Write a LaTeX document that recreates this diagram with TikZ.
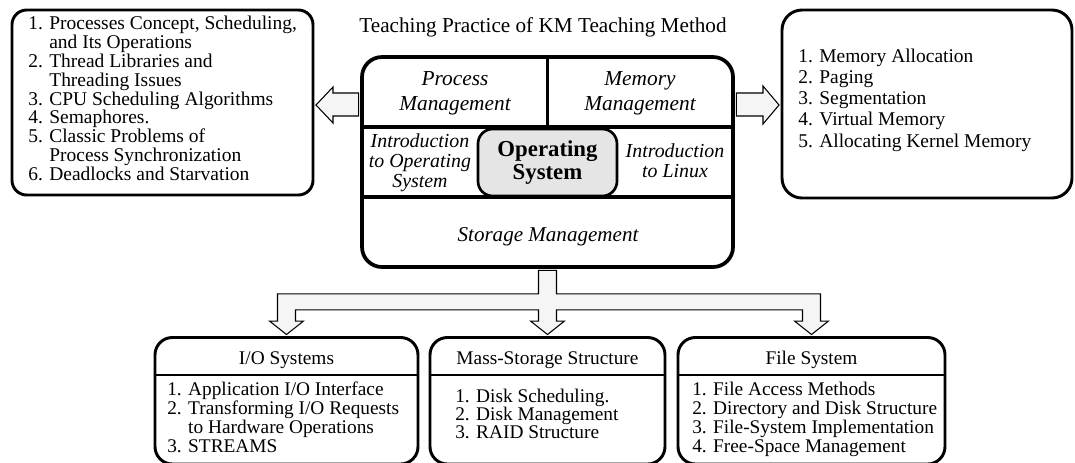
\documentclass[tikz,border=0pt]{standalone}
\usepackage{fontspec}
\setmainfont{Liberation Serif}
\usetikzlibrary{calc,fit}

\definecolor{arrowgray}{gray}{0.96}
\definecolor{osgray}{gray}{0.9}

\tikzset{
  roundbox/.style={draw,line width=2.2pt,rounded corners=13pt,inner sep=0pt},
  divline/.style={line width=2pt},
  blockarrow/.style={draw,line width=0.8pt,fill=arrowgray,line join=miter},
  listtext/.style={anchor=north west,align=left,inner sep=0pt,font=\fontsize{14.5}{14.2}\selectfont},
  headtext/.style={anchor=base,inner sep=0pt,font=\fontsize{14.5}{17}\selectfont},
  sectlabel/.style={align=center,inner sep=0pt,font=\itshape\fontsize{16}{18.75}\selectfont}
}

\begin{document}
\begin{tikzpicture}[x=0.75pt,y=-0.75pt]
\useasboundingbox (0,0) rectangle (1075,462);

% title
\node[anchor=base,font=\fontsize{15.9}{19}\selectfont] (title) at (543,32) {Teaching Practice of KM Teaching Method};

% process topics box
\node[roundbox,rounded corners=11pt,fit={(12,10) (313,195)}] (procs) {};
\node[listtext,font=\fontsize{14.6}{14.2}\selectfont] (procslist) at (28,15.5) {1. Processes Concept, Scheduling,\\\hphantom{1. }and Its Operations\\2. Thread Libraries and\\\hphantom{2. }Threading Issues\\3. CPU Scheduling Algorithms\\4. Semaphores.\\5. Classic Problems of\\\hphantom{5. }Process Synchronization\\6. Deadlocks and Starvation};

% memory topics box
\node[roundbox,rounded corners=15pt,fit={(782,10) (1072,198)}] (memlist) {};
\node[listtext,font=\fontsize{14.6}{15.9}\selectfont] (memtext) at (798,48.5) {1. Memory Allocation\\2. Paging\\3. Segmentation\\4. Virtual Memory\\5. Allocating Kernel Memory};

% operating system frame
\node[roundbox,line width=2.8pt,rounded corners=15pt,fit={(362,57) (733,267)}] (osframe) {};
\draw[divline,line width=2.6pt] (osframe.west |- 0,127) -- (osframe.east |- 0,127);
\draw[divline,line width=2.6pt] (osframe.west |- 0,197) -- (osframe.east |- 0,197);
\draw[divline,line width=2.6pt] (osframe.north) -- (osframe.north |- 0,127);

% operating system core node
\node[draw,line width=2pt,rounded corners=11pt,fill=osgray,inner sep=0pt,fit={(478,129) (617,196)}] (osbox) {};
\node[align=center,inner sep=0pt,font=\bfseries\fontsize{17.1}{17.25}\selectfont] (oslabel) at (osbox.center) {Operating\\System};

% parts of the frame
\node[sectlabel] (proclabel) at (455,93) {Process\\Management};
\node[sectlabel] (memlabel) at (640,93) {Memory\\Management};
\node[sectlabel,font=\itshape\fontsize{14.9}{15}\selectfont] (introos) at (420,162.5) {Introduction\\to Operating\\System};
\node[sectlabel,font=\itshape\fontsize{14.9}{15}\selectfont] (introlinux) at (675,160.5) {Introduction\\to Linux};
\node[anchor=base,inner sep=0pt,font=\itshape\fontsize{15.8}{19}\selectfont] (storlabel) at (548,241.5) {Storage Management};

% storage topic boxes
\node[roundbox,fit={(155,337.5) (418,464)}] (iosys) {};
\node[roundbox,fit={(430,337.5) (665,464)}] (massbox) {};
\node[roundbox,fit={(678,337.5) (945,464)}] (filebox) {};

\node[headtext] (iohead) at ($(iosys.north)+(0,28)$) {I/O Systems};
\node[headtext] (masshead) at ($(massbox.north)+(0,28)$) {Mass-Storage Structure};
\node[headtext] (filehead) at ($(filebox.north)+(0,28)$) {File System};

\draw[divline] (iosys.west |- 0,375) -- (iosys.east |- 0,375);
\draw[divline] (massbox.west |- 0,375) -- (massbox.east |- 0,375);
\draw[divline] (filebox.west |- 0,375) -- (filebox.east |- 0,375);

\node[listtext] (iolist) at (167,381.7) {1. Application I/O Interface\\2. Transforming I/O Requests\\\hphantom{2. }to Hardware Operations\\3. STREAMS};
\node[listtext,font=\fontsize{14.5}{13.5}\selectfont] (masslist) at (455,388.7) {1. Disk Scheduling.\\2. Disk Management\\3. RAID Structure};
\node[listtext] (filelist) at (692,381.7) {1. File Access Methods\\2. Directory and Disk Structure\\3. File-System Implementation\\4. Free-Space Management};

% block arrows to the side boxes
\draw[blockarrow] ($(osframe.west |- 0,93)+(-1.5,0)$) -- (333,93) -- (333,87) -- ($(procs.east |- 0,105)+(1.5,0)$) -- (333,123) -- (333,116) -- ($(osframe.west |- 0,116)+(-1.5,0)$) -- cycle;
\draw[blockarrow] ($(osframe.east |- 0,93)+(1.5,0)$) -- (763,93) -- (763,86) -- ($(memlist.west |- 0,105)+(-1.5,0)$) -- (763,124) -- (763,116) -- ($(osframe.east |- 0,116)+(1.5,0)$) -- cycle;

% branching arrow to the storage boxes
\coordinate (bartop) at ($(osframe.south)+(0,25)$);
\coordinate (barbot) at ($(osframe.south)+(0,41)$);
\coordinate (headbase) at ($(massbox.north)+(0,-15)$);
\draw[blockarrow] ($(osframe.south)+(-9,1.5)$)
  -- ($(osframe.south |- bartop)+(-9,0)$)
  -- ($(iosys.north |- bartop)+(-9,0)$)
  -- ($(iosys.north |- headbase)+(-9,0)$)
  -- ($(iosys.north |- headbase)+(-17,0)$)
  -- ($(iosys.north)+(0,-1.5)$)
  -- ($(iosys.north |- headbase)+(17,0)$)
  -- ($(iosys.north |- headbase)+(9,0)$)
  -- ($(iosys.north |- barbot)+(9,0)$)
  -- ($(massbox.north |- barbot)+(-9,0)$)
  -- ($(massbox.north |- headbase)+(-9,0)$)
  -- ($(massbox.north |- headbase)+(-17,0)$)
  -- ($(massbox.north)+(0,-1.5)$)
  -- ($(massbox.north |- headbase)+(17,0)$)
  -- ($(massbox.north |- headbase)+(9,0)$)
  -- ($(massbox.north |- barbot)+(9,0)$)
  -- ($(filebox.north |- barbot)+(-9,0)$)
  -- ($(filebox.north |- headbase)+(-9,0)$)
  -- ($(filebox.north |- headbase)+(-17,0)$)
  -- ($(filebox.north)+(0,-1.5)$)
  -- ($(filebox.north |- headbase)+(17,0)$)
  -- ($(filebox.north |- headbase)+(9,0)$)
  -- ($(filebox.north |- bartop)+(9,0)$)
  -- ($(osframe.south |- bartop)+(9,0)$)
  -- ($(osframe.south)+(9,1.5)$) -- cycle;

\end{tikzpicture}
\end{document}
